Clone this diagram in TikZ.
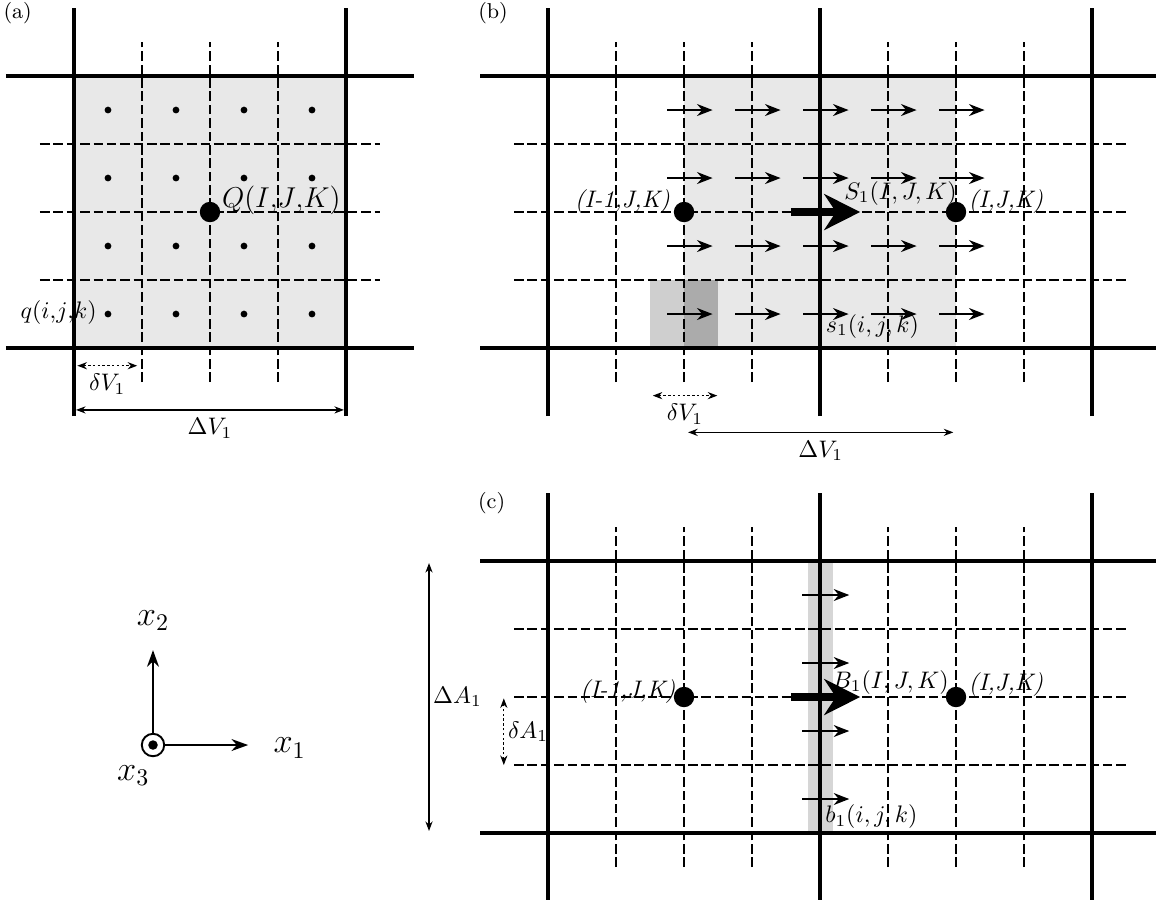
\documentclass[tikz,border=0pt]{standalone}
\usepackage{amsmath}
\usetikzlibrary{arrows.meta, positioning}

\definecolor{cellfill}{gray}{0.91}
\definecolor{stripfill}{gray}{0.84}
\definecolor{subfill}{gray}{0.81}
\definecolor{overfill}{gray}{0.67}

\begin{document}
\begin{tikzpicture}[
    coarse/.style={line width=1.3pt},
    fine/.style={line width=0.6pt, dash pattern=on 4pt off 1.6pt},
    cellpt/.style={circle, fill, inner sep=0pt, minimum size=0.1cm},
    nodept/.style={circle, fill, inner sep=0pt, minimum size=0.3cm},
    flux/.style={-{Stealth[length=6.5pt, width=5pt]}, line width=0.8pt},
    bigflux/.style={-{Stealth[length=15pt, width=15pt]}, line width=3.3pt},
    dim/.style={{Stealth[length=4pt, width=3pt]}-{Stealth[length=4pt, width=3pt]}, line width=0.5pt},
    subdim/.style={dim, dash pattern=on 1pt off 1pt},
    lab/.style={inner sep=0pt},
    axis/.style={-{Stealth[length=7pt, width=5pt]}, line width=0.8pt},
    tag/.style={font=\small}
]
    \useasboundingbox (0,0) rectangle (17,-13.235);

    % (a) one coarse cell split into 4x4 fine cells
    \node[tag] (taga) at (0.26,-0.2) {(a)};
    \begin{scope}[shift={(1.088,-5.118)}]
        \fill[cellfill] (0,0) rectangle (4,4);
        \foreach \i in {1,2,3} {
            \draw[fine] (\i,-0.5) -- (\i,4.5);
            \draw[fine] (-0.5,\i) -- (4.5,\i);
        }
        \foreach \i in {0,4} {
            \draw[coarse] (\i,-1) -- (\i,5);
            \draw[coarse] (-1,\i) -- (5,\i);
        }
        \foreach \i in {0,...,3}
            \foreach \j in {0,...,3}
                \node[cellpt] (qa\i\j) at (\i+0.5,\j+0.5) {};
        \node[nodept] (Qa) at (2,2) {};
        \node[lab, anchor=base west, font=\fontsize{11.5}{13}\selectfont] (Qalab) at (2.17,2.06) {$Q(I{,}J{,}K)$};
        \node[lab, anchor=base east] (qalab) at (0.34,0.43) {$q(i{,}j{,}k)$};

        % cell widths
        \coordinate (da1) at (0.05,-0.26);
        \coordinate (da2) at (0.93,-0.26);
        \coordinate (Da1) at (0.03,-0.91);
        \coordinate (Da2) at (3.97,-0.91);
        \draw[subdim] (da1) -- node[below] {$\delta V_1$} (da2);
        \draw[dim] (Da1) -- node[below] {$\Delta V_1$} (Da2);
    \end{scope}

    % (b) staggered volume between (I-1,J,K) and (I,J,K)
    \node[tag] (tagb) at (7.25,-0.2) {(b)};
    \begin{scope}[shift={(8.059,-5.118)}]
        \fill[cellfill] (2,0) rectangle (6,4);
        \fill[subfill] (1.5,0) rectangle (2,1);
        \fill[overfill] (2,0) rectangle (2.5,1);
        \foreach \i in {1,2,3,5,6,7}
            \draw[fine] (\i,-0.5) -- (\i,4.5);
        \foreach \j in {1,2,3}
            \draw[fine] (-0.5,\j) -- (8.5,\j);
        \foreach \i in {0,4,8}
            \draw[coarse] (\i,-1) -- (\i,5);
        \foreach \j in {0,4}
            \draw[coarse] (-1,\j) -- (9,\j);
        \foreach \i in {0,...,4}
            \foreach \j in {0,...,3}
                \draw[flux] (\i+1.75,\j+0.5) -- ++(0.67,0);
        \draw[bigflux] (3.57,2) -- (4.59,2);
        \node[nodept] (Pwb) at (2,2) {};
        \node[nodept] (Pcb) at (6,2) {};
        \node[lab, anchor=base east] (Pwblab) at (1.8,2.06) {\textit{(I-1,J,K)}};
        \node[lab, anchor=base west] (Pcblab) at (6.18,2.07) {\textit{(I,J,K)}};
        \node[lab, anchor=base west] (Slab) at (4.35,2.19) {$S_1(I, J, K)$};
        \node[lab, anchor=base west] (slab) at (4.08,0.23) {$s_1(i, j, k)$};

        % cell widths
        \coordinate (db1) at (1.54,-0.7);
        \coordinate (db2) at (2.49,-0.7);
        \coordinate (Db1) at (2.06,-1.24);
        \coordinate (Db2) at (5.96,-1.24);
        \draw[subdim] (db1) -- node[below] {$\delta V_1$} (db2);
        \draw[dim] (Db1) -- node[below] {$\Delta V_1$} (Db2);
    \end{scope}

    % (c) face between (I-1,J,K) and (I,J,K)
    \node[tag] (tagc) at (7.23,-7.4) {(c)};
    \begin{scope}[shift={(8.059,-12.25)}]
        \fill[stripfill] (3.83,0) rectangle (4.19,4);
        \foreach \i in {1,2,3,5,6,7}
            \draw[fine] (\i,-0.5) -- (\i,4.5);
        \foreach \j in {1,2,3}
            \draw[fine] (-0.5,\j) -- (8.5,\j);
        \foreach \i in {0,4,8}
            \draw[coarse] (\i,-1) -- (\i,5);
        \foreach \j in {0,4}
            \draw[coarse] (-1,\j) -- (9,\j);
        \foreach \j in {0,...,3}
            \draw[flux] (3.74,\j+0.5) -- ++(0.69,0);
        \draw[bigflux] (3.57,2) -- (4.59,2);
        \node[nodept] (Pwc) at (2,2) {};
        \node[nodept] (Pcc) at (6,2) {};
        \node[lab, anchor=base east] (Pwclab) at (1.88,2.0) {\textit{(I-1,J,K)}};
        \node[lab, anchor=base west] (Pcclab) at (6.18,2.1) {\textit{(I,J,K)}};
        \node[lab, anchor=base west] (Blab) at (4.18,2.13) {$B_1(I, J, K)$};
        \node[lab, anchor=base west] (blab) at (4.07,0.15) {$b_1(i, j, k)$};

        % face heights
        \coordinate (DA1) at (-1.75,0.03);
        \coordinate (DA2) at (-1.75,3.97);
        \coordinate (dA1) at (-0.65,1.0);
        \coordinate (dA2) at (-0.65,1.98);
        \draw[dim] (DA1) -- node[right, inner sep=1.5pt] {$\Delta A_1$} (DA2);
        \draw[subdim] (dA1) -- node[right, inner sep=1.5pt] {$\delta A_1$} (dA2);
    \end{scope}

    % axes
    \node[circle, draw, line width=0.8pt, minimum size=0.33cm, inner sep=0pt] (orig) at (2.25,-10.956) {};
    \node[circle, fill, minimum size=0.14cm, inner sep=0pt] (origdot) at (orig.center) {};
    \coordinate (x1tip) at (3.65,-10.956);
    \coordinate (x2tip) at (2.25,-9.56);
    \draw[axis] (orig.east) -- (x1tip);
    \draw[axis] (orig.north) -- (x2tip);
    \node[font=\Large] (x1lab) at (4.26,-11.0) {$x_1$};
    \node[font=\Large] (x2lab) at (2.25,-9.12) {$x_2$};
    \node[font=\Large] (x3lab) at (1.96,-11.4) {$x_3$};
\end{tikzpicture}
\end{document}
